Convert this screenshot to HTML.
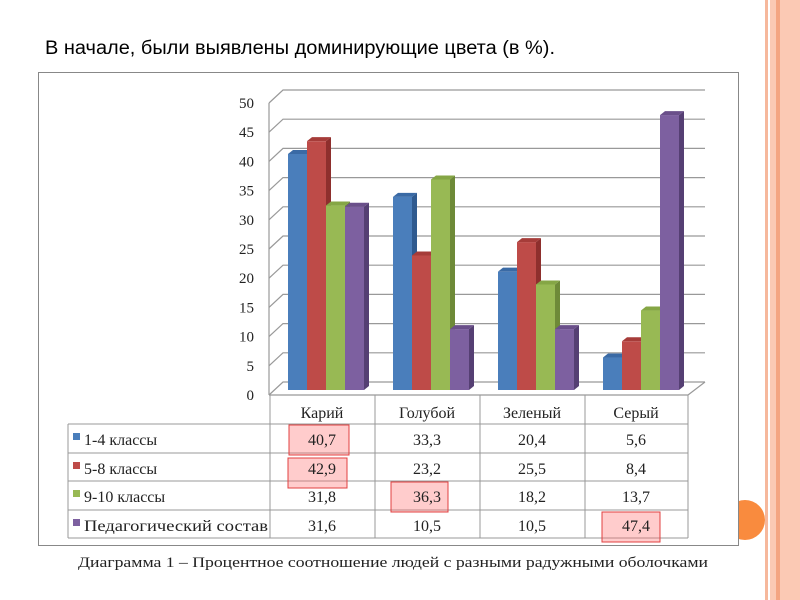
<!DOCTYPE html>
<html><head><meta charset="utf-8"><style>
body{margin:0;width:800px;height:600px;background:#fff;overflow:hidden;position:relative;font-family:"Liberation Serif",serif}
</style></head><body>
<svg width="800" height="600" style="position:absolute;left:0;top:0" font-family="Liberation Serif, serif">
<rect x="765" y="0" width="3" height="600" fill="#f6b89c"/>
<rect x="770" y="0" width="30" height="600" fill="#fbc9b4"/>
<rect x="776" y="0" width="4" height="600" fill="#f4a582"/>
<circle cx="745" cy="520" r="20" fill="#f98b3e"/>
<rect x="38.5" y="72.5" width="700" height="473" fill="#fff" stroke="#888" stroke-width="1"/>
<text x="45" y="54" font-family="Liberation Sans, sans-serif" font-size="19" fill="#000" textLength="510" lengthAdjust="spacingAndGlyphs">В начале, были выявлены доминирующие цвета (в %).</text>
<g id="grid" stroke="#999" stroke-width="1.2" fill="none"></g>
<g id="bars"></g>
<g font-size="15" fill="#222" text-anchor="end" id="yl"></g>
<g stroke="#999" stroke-width="1" fill="none">
<line x1="68" y1="424" x2="688" y2="424"/><line x1="68" y1="453" x2="688" y2="453"/>
<line x1="68" y1="481" x2="688" y2="481"/><line x1="68" y1="510" x2="688" y2="510"/>
<line x1="68" y1="538" x2="688" y2="538"/>
<line x1="68" y1="424" x2="68" y2="538"/><line x1="270" y1="395" x2="270" y2="538"/>
<line x1="375" y1="395" x2="375" y2="538"/><line x1="480" y1="395" x2="480" y2="538"/>
<line x1="585" y1="395" x2="585" y2="538"/><line x1="688" y1="395" x2="688" y2="538"/>
</g>
<g fill="rgba(255,110,110,0.35)" stroke="#e04040" stroke-width="1">
<rect x="289" y="425" width="60" height="30"/><rect x="288" y="458" width="59" height="30"/>
<rect x="391" y="482" width="57" height="30"/><rect x="602" y="512" width="58" height="30"/>
</g>
<g font-size="16" fill="#222" text-anchor="middle">
<text x="322" y="418">Карий</text><text x="427" y="418">Голубой</text><text x="532" y="418">Зеленый</text><text x="636" y="418">Серый</text>
<text x="322" y="445">40,7</text><text x="427" y="445">33,3</text><text x="532" y="445">20,4</text><text x="636" y="445">5,6</text>
<text x="322" y="474">42,9</text><text x="427" y="474">23,2</text><text x="532" y="474">25,5</text><text x="636" y="474">8,4</text>
<text x="322" y="502">31,8</text><text x="427" y="502">36,3</text><text x="532" y="502">18,2</text><text x="636" y="502">13,7</text>
<text x="322" y="531">31,6</text><text x="427" y="531">10,5</text><text x="532" y="531">10,5</text><text x="636" y="531">47,4</text>
</g>
<g font-size="16" fill="#222">
<rect x="73" y="433" width="7" height="7" fill="#4a7ebb"/><text x="84" y="445">1-4 классы</text>
<rect x="73" y="462" width="7" height="7" fill="#be4b48"/><text x="84" y="474">5-8 классы</text>
<rect x="73" y="490" width="7" height="7" fill="#98b954"/><text x="84" y="502">9-10 классы</text>
<rect x="73" y="519" width="7" height="7" fill="#7d60a0"/><text x="84" y="531" textLength="184" lengthAdjust="spacingAndGlyphs">Педагогический состав</text>
</g>
<text x="393" y="567" font-size="15" fill="#222" text-anchor="middle" textLength="630" lengthAdjust="spacingAndGlyphs">Диаграмма 1 – Процентное соотношение людей с разными радужными оболочками</text>
</svg>
<script>
var ns="http://www.w3.org/2000/svg";
function el(p,t,a,txt){var e=document.createElementNS(ns,t);for(var k in a)e.setAttribute(k,a[k]);if(txt!=null)e.textContent=txt;document.getElementById(p).appendChild(e);}
for(var v=0;v<=50;v+=5){var y=395-v*5.84;
 el("grid","polyline",{points:"269,"+y+" 283,"+(y-13)+" 705,"+(y-13)});
 el("yl","text",{x:254,y:y+5},String(v));}
el("grid","line",{x1:269,y1:395,x2:269,y2:103});
el("grid","polyline",{points:"269,395 688,395 705,382"});
var data=[[40.7,33.3,20.4,5.6],[42.9,23.2,25.5,8.4],[31.8,36.3,18.2,13.7],[31.6,10.5,10.5,47.4]];
var col=[["#4a7ebb","#2f5a8f","#3a6aa5"],["#be4b48","#8e2f2d","#a63c39"],["#98b954","#6e8a38","#85a645"],["#7d60a0","#553f73","#6a4f8a"]];
var cx=[270,375,480,585];
for(var c=0;c<4;c++)for(var s=0;s<4;s++){var v=data[s][c];var x=cx[c]+18+s*19,w=19,b=390,t=390-v*5.8,d=5;
 el("bars","rect",{x:x,y:t,width:w,height:b-t,fill:col[s][0]});
 el("bars","polygon",{points:(x+w)+","+t+" "+(x+w+d)+","+(t-4)+" "+(x+w+d)+","+(b-4)+" "+(x+w)+","+b,fill:col[s][1]});
 el("bars","polygon",{points:x+","+t+" "+(x+d)+","+(t-4)+" "+(x+w+d)+","+(t-4)+" "+(x+w)+","+t,fill:col[s][2]});}
</script>
</body></html>
